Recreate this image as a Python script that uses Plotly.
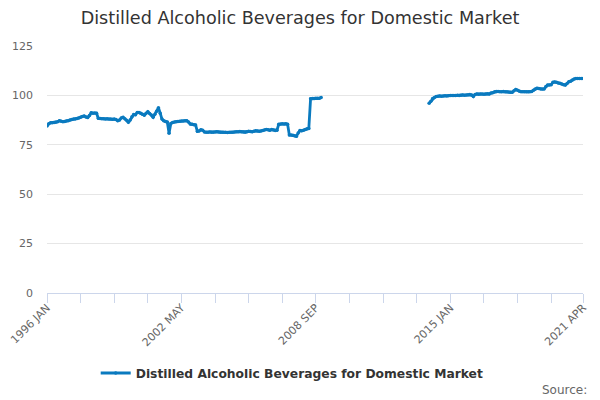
import plotly.graph_objects as go

MONTHS = ["JAN", "FEB", "MAR", "APR", "MAY", "JUN", "JUL", "AUG", "SEP", "OCT", "NOV", "DEC"]
YEARS = list(range(1996, 2022))

v1996 = [84.5, 85.6, 86.1, 86.2, 86.3, 86.4, 86.7, 87.2, 86.9, 86.7, 86.8, 87.0]
v1997 = [87.2, 87.5, 87.8, 88.0, 88.1, 88.3, 88.6, 89.0, 89.3, 89.6, 89.1, 88.8]
v1998 = [89.8, 91.2, 91.0, 91.1, 91.0, 88.4, 88.3, 88.2, 88.2, 88.1, 88.2, 88.0]
v1999 = [88.0, 87.9, 88.0, 87.8, 87.2, 87.5, 88.6, 88.9, 88.2, 87.4, 86.4, 87.5]
v2000 = [89.2, 90.3, 90.2, 91.4, 91.3, 91.0, 90.4, 90.0, 91.0, 91.7, 90.8, 90.1]
v2001 = [89.0, 90.5, 92.0, 93.8, 91.0, 88.0, 87.2, 86.8, 86.5, 80.8, 85.8, 86.3]
v2002 = [86.6, 86.7, 86.8, 86.9, 87.0, 87.1, 87.2, 87.2, 86.5, 85.5, 85.4, 85.1]
v2003 = [85.0, 81.8, 82.0, 82.6, 82.4, 81.5, 81.3, 81.4, 81.5, 81.4, 81.3, 81.5]
v2004 = [81.6, 81.5, 81.4, 81.3, 81.3, 81.4, 81.2, 81.3, 81.4, 81.3, 81.5, 81.6]
v2005 = [81.6, 81.7, 81.6, 81.5, 81.4, 81.6, 81.8, 81.7, 81.6, 81.9, 82.1, 82.0]
v2006 = [81.8, 82.0, 82.3, 82.5, 82.8, 82.6, 82.4, 82.7, 82.5, 82.3, 82.4, 85.4]
v2007 = [85.5, 85.6, 85.5, 85.6, 85.4, 80.0, 79.9, 79.8, 79.6, 79.3, 81.0, 82.2]
v2008 = [82.1, 82.4, 82.7, 83.1, 83.3, 98.3, 98.4, 98.4, 98.5, 98.6, 98.5, 99.0]
v2009 = [None] * 12
v2010 = [None] * 12
v2011 = [None] * 12
v2012 = [None] * 12
v2013 = [None] * 12
v2014 = [96.0, 97.0, 98.4, 98.9, 99.4, 99.6, 99.7, 99.6, 99.7, 99.8, 99.7, 99.8]
v2015 = [99.9, 100.0, 99.9, 100.0, 100.1, 100.0, 100.1, 100.2, 100.1, 100.2, 100.3, 100.4]
v2016 = [100.2, 99.4, 100.5, 100.7, 100.6, 100.7, 100.7, 100.6, 100.7, 100.8, 100.7, 101.2]
v2017 = [101.4, 101.8, 102.0, 102.0, 101.9, 101.9, 102.0, 101.9, 101.8, 101.7, 101.6, 101.6]
v2018 = [102.3, 103.0, 102.6, 102.1, 101.9, 101.9, 101.8, 101.9, 101.8, 101.9, 102.0, 102.6]
v2019 = [103.3, 103.6, 103.5, 103.3, 103.2, 103.3, 104.5, 105.2, 105.3, 105.4, 106.6, 106.8]
v2020 = [106.6, 106.3, 106.1, 105.8, 105.4, 105.2, 106.0, 106.9, 107.2, 107.8, 108.3, 108.5]
v2021 = [108.6, 108.6, 108.5, 108.6]

YEAR_VALUES = [v1996, v1997, v1998, v1999, v2000, v2001, v2002, v2003, v2004,
               v2005, v2006, v2007, v2008, v2009, v2010, v2011, v2012, v2013,
               v2014, v2015, v2016, v2017, v2018, v2019, v2020, v2021]

SERIES_NAME = "Distilled Alcoholic Beverages for Domestic Market"
TITLE = "Distilled Alcoholic Beverages for Domestic Market"
LABELED_TICKS = ["1996 JAN", "2002 MAY", "2008 SEP", "2015 JAN", "2021 APR"]
Y_TICKS = [0, 25, 50, 75, 100, 125]

categories = []
values = []
for yr, vals in zip(YEARS, YEAR_VALUES):
    for m, v in zip(MONTHS, vals):
        categories.append(f"{yr} {m}")
        values.append(v)

tick_step = 19
tickvals = [categories[i] for i in range(0, len(categories), tick_step)]
if categories[-1] not in tickvals:
    tickvals.append(categories[-1])
ticktext = [c if c in LABELED_TICKS else "" for c in tickvals]

FONT = "DejaVu Sans"
COLOR = "#0a7abf"

fig = go.Figure()
fig.add_trace(go.Scatter(
    x=categories, y=values, name=SERIES_NAME,
    mode="lines+markers",
    line=dict(color=COLOR, width=2.8),
    marker=dict(color=COLOR, size=3.5),
    connectgaps=False,
))

fig.update_layout(
    width=600, height=400,
    margin=dict(l=47, r=17, t=46, b=107, autoexpand=False),
    paper_bgcolor="white", plot_bgcolor="white",
    title=dict(text=TITLE, x=0.5, xanchor="center", y=0.955, yanchor="middle",
               font=dict(family=FONT, size=17.6, color="#333333")),
    font=dict(family=FONT, color="#666666", size=11),
    showlegend=True,
    legend=dict(orientation="h", xref="container", x=0.487, xanchor="center",
                yref="container", y=0.0675, yanchor="middle",
                font=dict(family=FONT, size=12.3, color="#333333", weight="bold"),
                itemwidth=30),
    xaxis=dict(type="category", range=[0, len(categories) - 1],
               tickmode="array", tickvals=tickvals, ticktext=ticktext,
               tickangle=-45, ticks="outside", ticklen=9, tickcolor="#ccd6eb",
               ticklabelstandoff=-6,
               showline=True, linecolor="#ccd6eb", linewidth=1,
               showgrid=False, zeroline=False, automargin=False,
               tickfont=dict(family=FONT, size=11, color="#666666")),
    yaxis=dict(range=[0, 125], tickmode="array", tickvals=Y_TICKS,
               showgrid=True, gridcolor="#e6e6e6", gridwidth=1,
               zeroline=False, showline=False, ticks="", automargin=False,
               ticklabelstandoff=13,
               tickfont=dict(family=FONT, size=11, color="#666666")),
    annotations=[dict(text="Source:", xref="paper", yref="paper",
                      x=1.011, y=-0.393, xanchor="right", yanchor="middle",
                      showarrow=False,
                      font=dict(family=FONT, size=12, color="#666666"))],
)

fig.write_html("out.html", config={"displayModeBar": False},
               post_script="document.body.style.margin='0';")
